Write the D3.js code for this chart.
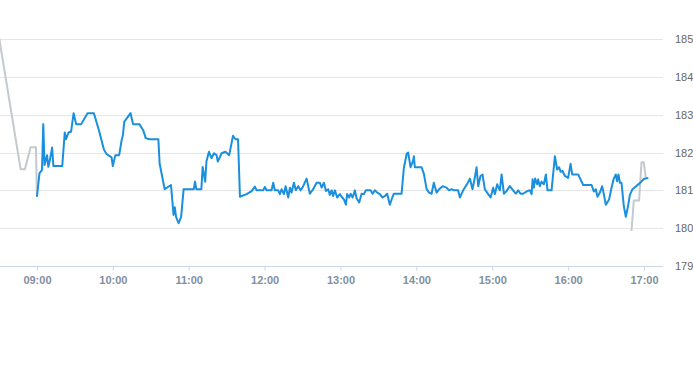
<!DOCTYPE html>
<html>
<head>
<meta charset="utf-8">
<script src="https://cdn.jsdelivr.net/npm/d3@7/dist/d3.min.js"></script>
<style>
  html, body { margin: 0; padding: 0; background: #ffffff; }
  svg { display: block; }
  text { font-family: "Lucida Grande", "Lucida Sans Unicode", Arial, Helvetica, sans-serif; }
</style>
</head>
<body>
<svg id="chart" width="693" height="365"></svg>
<script>
// ---- DATA (times are minutes after the 09:00 open) ----
const preMinutes = [-30, -12.9, -9.5, -5, -0.8, 0];
const prePrices  = [185.05, 181.56, 181.56, 182.14, 182.14, 180.83];

const sessionMinutes = [
  0, 2, 4, 5, 6, 8, 9, 10, 12, 13, 20, 22, 23, 25, 27, 29, 31, 35, 40, 45,
  49, 53, 55, 59, 60, 62, 65, 67, 68, 69, 72, 74, 76, 81, 84, 86, 89, 96, 97, 101,
  106, 108, 109, 110, 112, 114, 116, 124, 125, 126, 130, 131, 133, 134, 136, 138, 140, 142, 143, 146,
  149, 152, 155, 157, 159, 160.5, 165.8, 169.7, 172.3, 173.7, 178.9, 180.2, 181.6, 185.5, 186.8, 188.1, 190.7, 192.1, 193.4, 195.3,
  196.6, 198.7, 200.0, 201.3, 203.2, 204.7, 206.6, 208.5, 210.5, 213.2, 215.8, 218.4, 221.1, 223.7, 225.1, 226.9, 228.5, 230.3, 231.6, 233.0,
  234.2, 235.6, 237.4, 239.5, 240.9, 242.7, 244.3, 245.3, 246.9, 248.0, 249.6, 251.4, 252.7, 254.8, 256.7, 258.5, 260.1, 263.8, 265.4, 267.2,
  269.0, 271.1, 273.3, 275.1, 276.9, 279.0, 281.2, 282.2, 286.9, 288.3, 290.1, 292.3, 293.5, 295.4, 297.5, 298.0, 298.8, 304.1, 305.9, 308.1,
  310.1, 312.0, 313.8, 316.0, 318.0, 320.7, 323.9, 325.9, 327.8, 329.6, 333.0, 334.4, 337.0, 340.2, 342.3, 344.4, 346.2, 347.6, 348.9, 350.7,
  352.3, 354.1, 356.8, 358.7, 360.7, 362.1, 363.9, 366.0, 367.4, 369.2, 371.3, 373.9, 376.5, 378.6, 380.5, 382.4, 384.4, 387.6, 389.7, 391.1,
  391.9, 392.9, 393.9, 395.5, 396.3, 397.6, 399.0, 400.8, 402.4, 403.7, 406.9, 409.5, 411.3, 412.9, 414.0, 415.6, 417.4, 420.0, 421.9, 423.2,
  427.9, 431.9, 438.5, 440.3, 441.9, 443.2, 445.1, 446.9, 448.2, 449.8, 452.4, 454.3, 456.1, 457.7, 458.7, 459.8, 460.9, 462.2, 464.0, 465.6,
  467.4, 468.8, 470.9, 476.7, 479.8, 483.4
];
const sessionPrices = [
  180.83, 181.45, 181.54, 182.75, 181.67, 181.93, 181.62, 181.76, 182.13, 181.64, 181.64, 182.53, 182.35, 182.53, 182.55, 183.04, 182.75, 182.75, 183.04, 183.04,
  182.59, 182.07, 181.96, 181.87, 181.64, 181.93, 181.93, 182.33, 182.46, 182.81, 182.95, 183.04, 182.75, 182.75, 182.59, 182.38, 182.35, 182.35, 181.71, 181.03,
  181.14, 180.35, 180.55, 180.30, 180.13, 180.30, 181.03, 181.03, 181.23, 181.03, 181.03, 181.62, 181.23, 181.76, 182.02, 181.85, 181.98, 181.93, 181.76, 181.98,
  182.02, 181.93, 182.44, 182.35, 182.35, 180.83, 180.90, 180.98, 181.10, 181.00, 181.00, 181.09, 181.00, 181.00, 181.20, 181.00, 181.00, 180.90, 181.03, 180.90,
  181.11, 180.81, 181.07, 180.94, 181.20, 181.00, 181.11, 181.00, 181.11, 181.31, 180.91, 181.03, 181.20, 181.20, 181.07, 181.20, 180.98, 181.03, 180.88, 181.00,
  180.85, 181.00, 180.81, 180.90, 180.83, 180.76, 180.62, 180.90, 180.81, 180.91, 180.81, 181.00, 180.79, 180.68, 180.91, 180.90, 181.00, 181.00, 180.91, 181.00,
  180.94, 180.90, 180.81, 180.85, 180.91, 180.62, 180.83, 180.91, 180.91, 180.91, 181.59, 181.96, 182.00, 181.61, 181.79, 181.90, 181.61, 181.61, 181.44, 181.03,
  180.94, 180.91, 181.20, 180.94, 181.03, 181.11, 181.07, 181.00, 181.03, 181.00, 181.00, 180.81, 181.00, 181.17, 181.31, 181.03, 181.33, 181.61, 181.11, 181.38,
  181.42, 181.03, 180.90, 180.81, 181.07, 180.90, 181.16, 181.00, 181.42, 180.91, 180.98, 181.11, 181.00, 180.91, 181.00, 180.91, 180.91, 180.98, 181.00, 180.90,
  181.29, 181.07, 181.31, 181.16, 181.29, 181.11, 181.23, 181.16, 181.42, 181.00, 181.00, 181.90, 181.55, 181.61, 181.49, 181.51, 181.38, 181.33, 181.70, 181.42,
  181.42, 181.14, 181.14, 180.97, 181.03, 180.83, 180.94, 181.11, 180.90, 180.62, 180.76, 181.07, 181.31, 181.42, 181.24, 181.42, 181.20, 181.20, 180.59, 180.30,
  180.59, 180.88, 181.03, 181.19, 181.30, 181.33
];

const postMinutes = [470.1, 471.9, 476.1, 478.0, 479.8, 481.4];
const postPrices  = [179.93, 180.73, 180.73, 181.74, 181.74, 181.33];

const yTickValues = [179, 180, 181, 182, 183, 184, 185];
const xTickLabels = ["09:00", "10:00", "11:00", "12:00", "13:00", "14:00", "15:00", "16:00", "17:00"];

// ---- BUILD ----
const base = new Date(2024, 0, 2, 9, 0, 0);
const toDate = m => new Date(base.getTime() + m * 60000);
const zip = (ms, ps) => ms.map((m, i) => ({ t: toDate(m), v: ps[i] }));
const pre = zip(preMinutes, prePrices);
const session = zip(sessionMinutes, sessionPrices);
const post = zip(postMinutes, postPrices);

const svg = d3.select("#chart");
const plotLeft = -1, plotRight = 663, plotTop = 39, plotBottom = 266;

const x = d3.scaleTime()
  .domain([toDate(-30), toDate(495)])
  .range([plotLeft, plotRight]);
const y = d3.scaleLinear()
  .domain([179, 185])
  .range([plotBottom, plotTop]);

// grid lines
svg.append("g")
  .selectAll("line")
  .data(yTickValues.filter(v => v !== 179))
  .join("line")
  .attr("x1", 0).attr("x2", plotRight)
  .attr("y1", d => Math.round(y(d)) + 0.5).attr("y2", d => Math.round(y(d)) + 0.5)
  .attr("stroke", "#e6e6e6").attr("stroke-width", 1);

// y labels (right)
svg.append("g")
  .selectAll("text")
  .data(yTickValues)
  .join("text")
  .attr("x", 675)
  .attr("y", d => y(d) + 4)
  .attr("fill", "#666666")
  .attr("font-size", "11px")
  .text(d => d);

// x axis
const xTicks = xTickLabels.map(s => {
  const [h, mm] = s.split(":").map(Number);
  return toDate((h - 9) * 60 + mm);
});
const xAxis = d3.axisBottom(x)
  .tickValues(xTicks)
  .tickFormat(d3.timeFormat("%H:%M"))
  .tickSize(4)
  .tickSizeOuter(0)
  .tickPadding(6);
const gx = svg.append("g")
  .attr("transform", `translate(0,${Math.round(plotBottom) + 0.5})`)
  .call(xAxis);
gx.select(".domain").remove();
gx.append("line")
  .attr("x1", 0).attr("x2", plotRight)
  .attr("y1", 0).attr("y2", 0)
  .attr("stroke", "#ccd6eb");
gx.selectAll(".tick line").attr("stroke", "#ccd6eb");
gx.selectAll(".tick text")
  .attr("fill", "#8190a0")
  .attr("font-size", "11px")
  .attr("font-weight", "bold")
  .style("font-family", "\"Lucida Grande\", \"Lucida Sans Unicode\", Arial, Helvetica, sans-serif");

// lines
const line = d3.line().x(d => x(d.t)).y(d => y(d.v));
svg.append("path").datum(pre)
  .attr("d", line).attr("fill", "none")
  .attr("stroke", "#c2cad0").attr("stroke-width", 2).attr("stroke-linejoin", "round");
svg.append("path").datum(post)
  .attr("d", line).attr("fill", "none")
  .attr("stroke", "#c2cad0").attr("stroke-width", 2).attr("stroke-linejoin", "round");
svg.append("path").datum(session)
  .attr("d", line).attr("fill", "none")
  .attr("stroke", "#1a8fdd").attr("stroke-width", 2).attr("stroke-linejoin", "round");
</script>
</body>
</html>
